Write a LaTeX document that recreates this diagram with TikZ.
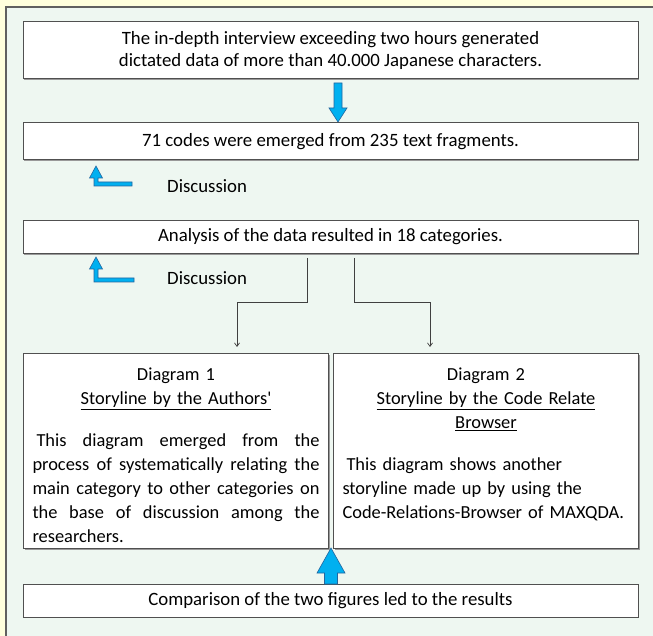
\documentclass[tikz,border=0pt]{standalone}
\usepackage{fontspec}
\setmainfont{Carlito}
\usetikzlibrary{arrows.meta,shadows,calc}
\definecolor{outerbg}{HTML}{FFFFDD}
\definecolor{innerbg}{HTML}{EEF7F1}
\definecolor{frameline}{HTML}{606060}
\definecolor{boxline}{HTML}{505050}
\definecolor{arrowfill}{HTML}{00B0F0}
\definecolor{arrowline}{HTML}{23659E}
\definecolor{conn}{HTML}{404040}
\newcommand{\jline}[1]{\noindent\hbox to 287pt{#1}\par}
\begin{document}
\begin{tikzpicture}[x=1pt,y=-1pt,
  box/.style={draw=boxline, line width=1pt, fill=white,
    drop shadow={shadow xshift=1.3pt, shadow yshift=-1.3pt, fill=black!40, opacity=1},
    inner sep=0pt, align=center, font=\fontsize{18.8}{22}\selectfont},
  plain/.style={inner sep=0pt, font=\fontsize{18.8}{22}\selectfont},
  bluearrow/.style={fill=arrowfill, draw=arrowline, line width=0.6pt, line join=miter},
  conn/.style={draw=conn, line width=0.7pt, -{Straight Barb[length=3.5pt,width=5pt]}},
  dtext/.style={inner sep=0pt, text width=287pt, font=\fontsize{18.4}{24}\selectfont}]
\useasboundingbox (0,0) rectangle (653,636);
\fill[outerbg] (0,0) rectangle (653,636);
\fill[innerbg] (6,7) rectangle (653,636);
\draw[frameline, line width=1.3pt] (6,636) -- (6,7) -- (653,7);

% boxes
\node[box, minimum width=615pt, minimum height=57pt] (intro) at (330.5,50)
  {The in-depth interview exceeding two hours generated\\dictated data of more than 40.000 Japanese characters.};
\node[box, minimum width=615pt, minimum height=37pt] (codes) at (330.5,141.5)
  {71 codes were emerged from 235 text fragments.};
\node[box, minimum width=615pt, minimum height=33pt] (analysis) at (330.5,237)
  {Analysis of the data resulted in 18 categories.};
\node[box, minimum width=305pt, minimum height=195pt, anchor=north west] (d1) at (23,353) {};
\node[box, minimum width=305pt, minimum height=195pt, anchor=north west] (d2) at (333,353) {};
\node[box, minimum width=615pt, minimum height=33pt] (comp) at (330.5,600.5)
  {Comparison of the two figures led to the results};

% labels
\node[plain, anchor=west] (disc1) at (167,186) {Discussion};
\node[plain, anchor=west] (disc2) at (167,278) {Discussion};

% diagram texts
\node[dtext, anchor=north] (d1t) at ($(d1.north)+(0,15)$) {%
  {\centering Diagram 1\\ \underline{Storyline by the Authors\textquotesingle}\par}
  \vspace{18pt}
  \jline{\hspace*{4pt}This\hfill diagram\hfill emerged\hfill from\hfill the}
  \jline{process\hfill of\hfill systematically\hfill relating\hfill the}
  \jline{main\hfill category\hfill to\hfill other\hfill categories\hfill on}
  \jline{the\hfill base\hfill of\hfill discussion\hfill among\hfill the}
  \noindent researchers.\par};
\node[dtext, anchor=north] (d2t) at ($(d2.north)+(0,15)$) {%
  {\centering Diagram 2\\ \underline{Storyline by the Code Relate}\\ \underline{Browser}\par}
  \vspace{18pt}
  \noindent\hspace*{4pt}This diagram shows another\par
  \noindent storyline made up by using the\par
  \noindent Code-Relations-Browser of MAXQDA.\par};

% blue block arrows
\filldraw[bluearrow] (334,83) -- (342,83) -- (342,108) -- (347,108) -- (338,122)
  -- (329,108) -- (334,108) -- cycle;
\filldraw[bluearrow] (324.5,584) -- (324.5,573) -- (317,573) -- (331,548) -- (345,573)
  -- (337.5,573) -- (337.5,584) -- cycle;
\filldraw[bluearrow] (96,166) -- (102.5,178) -- (98,178) -- (98,182) -- (132,182)
  -- (132,186) -- (94,186) -- (94,178) -- (89.5,178) -- cycle;
\filldraw[bluearrow] (96,257) -- (102.5,269) -- (98,269) -- (98,278) -- (134,278)
  -- (134,282) -- (94,282) -- (94,269) -- (89.5,269) -- cycle;

% connectors
\coordinate (l0) at (307,258);
\coordinate (r0) at (354,258);
\coordinate (l1) at (237,347);
\coordinate (r1) at (430,347);
\draw[conn] (l0) |- (l1 |- 0,302) -- (l1);
\draw[conn] (r0) |- (r1 |- 0,302) -- (r1);
\end{tikzpicture}
\end{document}
